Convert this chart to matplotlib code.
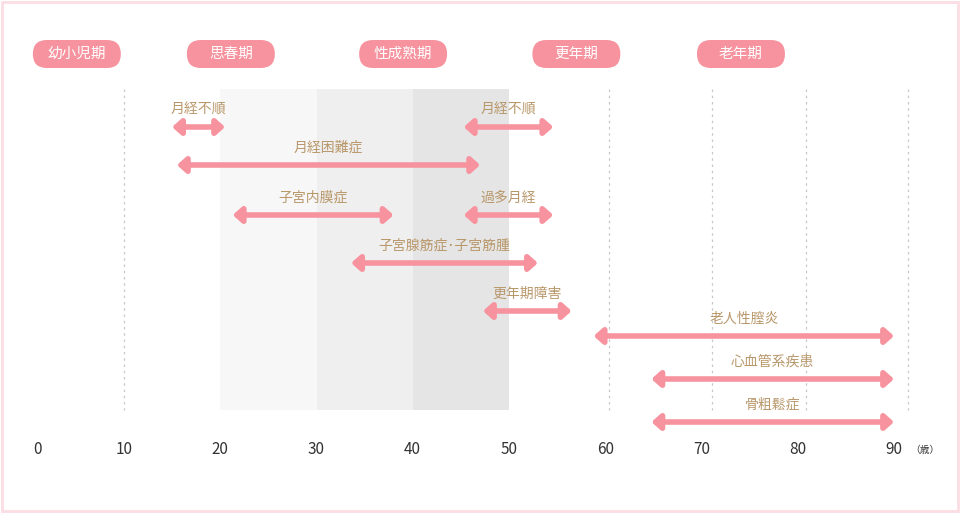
import matplotlib.pyplot as plt
from matplotlib.patches import FancyBboxPatch, Rectangle

plt.rcParams['font.family'] = ['Noto Sans CJK JP', 'DejaVu Sans']

# --- data ---
stages = ['幼小児期', '思春期', '性成熟期', '更年期', '老年期']
stage_centers = [5.1, 21.1, 39.0, 57.0, 74.1]
ages = [0, 10, 20, 30, 40, 50, 60, 70, 80, 90]
guide_lines = [10, 60.4, 71.1, 80.9, 91.5]
bands = [(20, 30, '#f7f7f7'), (30, 40, '#efefef'), (40, 50, '#e5e5e5')]

diseases = ['月経不順', '月経不順', '月経困難症', '子宮内膜症', '過多月経',
            '子宮腺筋症･子宮筋腫', '更年期障害', '老人性膣炎', '心血管系疾患', '骨粗鬆症']
start_age = [15.0, 45.3, 15.5, 21.3, 45.3, 33.6, 47.3, 58.8, 64.8, 64.8]
end_age = [20.5, 54.6, 47.0, 38.0, 54.6, 53.0, 56.5, 90.0, 90.0, 90.0]
row_y = [127, 127, 165, 215, 215, 263, 311, 336, 379, 422]

PINK = '#f7939e'
GOLD = '#b8976a'

fig = plt.figure(figsize=(9.6, 5.13), dpi=100)
ax = fig.add_axes([0, 0, 1, 1])
scale = 9.625
x0 = 27.75
ax.set_xlim(-x0 / scale, (960 - x0) / scale)
ax.set_ylim(513, 0)
ax.axis('off')

# pixel overlay for the rounded stage labels
px = fig.add_axes([0, 0, 1, 1], facecolor='none')
px.set_xlim(0, 960)
px.set_ylim(513, 0)
px.axis('off')

# frame
fig.patches.append(Rectangle((0.002, 0.003), 0.996, 0.994, transform=fig.transFigure,
                             fill=False, edgecolor='#fbdde4', lw=2))

for a, b, c in bands:
    ax.add_patch(Rectangle((a, 89), b - a, 321, color=c, lw=0, zorder=0))
for g in guide_lines:
    ax.plot([g, g], [89, 410], ls=(0, (2, 3)), color='#c8c8c8', lw=0.9, zorder=1)

for name, c in zip(stages, stage_centers):
    cx = x0 + c * scale
    px.add_patch(FancyBboxPatch((cx - 44, 40), 88, 28,
                                boxstyle='round,pad=0,rounding_size=14',
                                color=PINK, lw=0))
    px.text(cx, 54, name, ha='center', va='center', color='white', fontsize=10.5)

for name, s, e, y in zip(diseases, start_age, end_age, row_y):
    ax.annotate('', xy=(e, y), xytext=(s, y),
                arrowprops=dict(arrowstyle='<|-|>,head_length=0.5,head_width=0.45',
                                color=PINK, lw=4, shrinkA=0, shrinkB=0), zorder=3)
    ax.text((s + e) / 2, y - 10, name, ha='center', va='bottom', color=GOLD, fontsize=10)

for a in ages:
    xx = 1.0 if a == 0 else a
    ax.text(xx, 449, str(a), ha='center', va='center', color='#333333', fontsize=11)
ax.text(93.2, 450, '（歳）', ha='center', va='center', color='#333333', fontsize=7)

fig.savefig('out.png', dpi=100)
